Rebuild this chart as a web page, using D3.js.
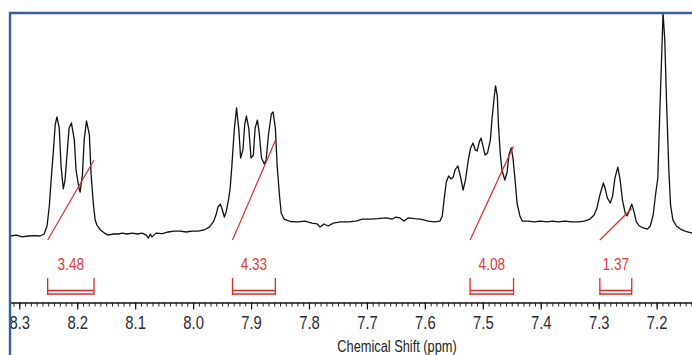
<!DOCTYPE html>
<html>
<head>
<meta charset="utf-8">
<script src="https://cdn.jsdelivr.net/npm/d3@7"></script>
<style>
  html, body { margin: 0; padding: 0; background: #fff; }
  svg { display: block; }
</style>
</head>
<body>
<svg id="chart" width="692" height="355"></svg>
<script>
// 1H NMR spectrum, aromatic region (ppm vs. relative intensity, tallest peak = 100)
const shiftPpm = [
  8.316, 8.305, 8.295, 8.285, 8.274, 8.264, 8.257, 8.252, 8.248, 8.245,
  8.241, 8.238, 8.235, 8.231, 8.228, 8.224, 8.221, 8.217, 8.214, 8.210,
  8.205, 8.202, 8.197, 8.195, 8.191, 8.188, 8.184, 8.179, 8.176, 8.172,
  8.169, 8.166, 8.160, 8.153, 8.147, 8.138, 8.129, 8.122, 8.114, 8.105,
  8.096, 8.088, 8.081, 8.077, 8.074, 8.071, 8.064, 8.053, 8.043, 8.033,
  8.022, 8.012, 8.002, 7.991, 7.981, 7.972, 7.965, 7.960, 7.957, 7.953,
  7.950, 7.946, 7.943, 7.939, 7.936, 7.933, 7.929, 7.925, 7.921, 7.918,
  7.914, 7.911, 7.908, 7.904, 7.900, 7.896, 7.893, 7.889, 7.886, 7.882,
  7.877, 7.874, 7.870, 7.865, 7.862, 7.858, 7.855, 7.851, 7.848, 7.843,
  7.832, 7.819, 7.807, 7.795, 7.786, 7.781, 7.774, 7.767, 7.758, 7.746,
  7.732, 7.719, 7.708, 7.694, 7.681, 7.667, 7.656, 7.650, 7.643, 7.636,
  7.629, 7.618, 7.608, 7.594, 7.584, 7.574, 7.570, 7.567, 7.563, 7.559,
  7.555, 7.551, 7.548, 7.543, 7.538, 7.534, 7.530, 7.525, 7.521, 7.517,
  7.513, 7.510, 7.506, 7.503, 7.499, 7.496, 7.492, 7.487, 7.484, 7.480,
  7.478, 7.475, 7.473, 7.470, 7.467, 7.462, 7.458, 7.455, 7.451, 7.448,
  7.444, 7.441, 7.436, 7.432, 7.422, 7.411, 7.401, 7.389, 7.380, 7.370,
  7.358, 7.346, 7.335, 7.325, 7.315, 7.308, 7.303, 7.298, 7.292, 7.289,
  7.285, 7.280, 7.276, 7.272, 7.267, 7.263, 7.259, 7.254, 7.251, 7.247,
  7.243, 7.239, 7.235, 7.230, 7.223, 7.216, 7.211, 7.206, 7.202, 7.198,
  7.195, 7.191, 7.189, 7.186, 7.183, 7.179, 7.176, 7.172, 7.166, 7.159,
  7.151, 7.139
];
const intensity = [
  0.0, 0.4, -0.4, 0.0, 0.2, 0.0, 0.9, 4.5, 13.9, 25.1,
  38.6, 49.8, 53.4, 48.4, 31.8, 21.1, 25.1, 38.6, 48.4, 50.7,
  43.0, 29.6, 21.5, 19.7, 27.4, 43.0, 51.6, 45.3, 27.4, 13.9,
  7.2, 4.9, 2.7, 1.3, 0.4, 0.9, 0.9, 1.3, 0.9, 1.3,
  0.9, 1.3, 0.4, -0.9, 0.9, -0.4, 1.3, 1.1, 1.8, 2.2,
  2.2, 1.8, 2.2, 2.2, 2.7, 4.0, 6.3, 9.9, 13.0, 14.3,
  12.1, 8.5, 10.8, 16.1, 21.5, 31.8, 47.5, 57.4, 47.5, 35.0,
  38.6, 49.8, 53.8, 48.4, 35.0, 36.3, 48.4, 52.0, 46.6, 35.0,
  32.3, 34.1, 45.3, 54.7, 55.6, 48.4, 31.8, 18.4, 10.3, 7.6,
  6.5, 6.3, 6.7, 5.8, 5.4, 4.0, 5.4, 4.5, 5.8, 6.3,
  6.3, 6.7, 7.6, 7.6, 7.8, 8.1, 7.6, 8.5, 8.1, 6.7,
  8.1, 7.8, 7.6, 6.7, 6.3, 6.7, 9.0, 16.1, 24.2, 26.9,
  25.6, 26.5, 29.6, 31.4, 26.0, 20.6, 25.1, 34.1, 39.5, 41.7,
  38.6, 38.1, 42.2, 43.9, 39.5, 36.3, 37.2, 43.0, 52.9, 63.2,
  67.3, 62.8, 49.8, 37.2, 29.6, 25.1, 28.7, 36.3, 39.5, 35.0,
  24.2, 14.8, 9.0, 6.7, 6.7, 6.3, 6.7, 6.3, 6.7, 6.3,
  6.7, 6.3, 6.3, 6.7, 7.6, 9.4, 12.6, 18.4, 23.8, 21.5,
  17.0, 14.8, 17.9, 26.0, 30.9, 25.1, 16.1, 9.9, 9.0, 11.7,
  14.3, 10.8, 6.3, 4.5, 3.6, 3.1, 4.5, 9.4, 18.4, 26.0,
  52.0, 83.4, 100.0, 87.9, 61.0, 29.6, 13.9, 7.2, 4.5, 3.1,
  2.2, 1.3
];

// Integrated regions: ppm limits and integral values
const integralFrom  = [8.251, 7.932, 7.522, 7.298];
const integralTo    = [8.171, 7.858, 7.447, 7.243];
const integralValue = [3.48, 4.33, 4.08, 1.37];

// Axis ticks
const majorTicks = [8.3, 8.2, 8.1, 8.0, 7.9, 7.8, 7.7, 7.6, 7.5, 7.4, 7.3, 7.2];
const minorTicks = d3.range(714, 832).map(d => d / 100);
const axisTitle = "Chemical Shift (ppm)";

(function draw() {
  const svg = d3.select("#chart");
  const W = 692, H = 355;
  const frameLeft = 10, frameTop = 13, axisY = 302.5;

  // reversed ppm axis, as usual for NMR
  const x = d3.scaleLinear().domain([8.316, 7.139]).range([frameLeft, W]);
  const y = d3.scaleLinear().domain([0, 100]).range([236, frameTop]);
  const yInt = d3.scaleLinear().domain([0, 5]).range([240, 125]);

  const red = "#dc2b2b";
  const font = "'Liberation Sans', Arial, sans-serif";

  // spectrum trace
  const spectrum = shiftPpm.map((p, i) => [p, intensity[i]]);
  svg.append("path")
    .datum(spectrum)
    .attr("fill", "none")
    .attr("stroke", "#111")
    .attr("stroke-width", 1.3)
    .attr("stroke-linejoin", "round")
    .attr("d", d3.line().x(d => x(d[0])).y(d => y(d[1])));

  // integral curves, labels and brackets
  const integrals = integralValue.map((v, i) => ({ from: integralFrom[i], to: integralTo[i], value: v }));
  const ig = svg.append("g").attr("class", "integrals");

  ig.selectAll("path.int")
    .data(integrals)
    .join("path")
    .attr("class", "int")
    .attr("fill", "none")
    .attr("stroke", red)
    .attr("stroke-width", 1.2)
    .attr("d", d => d3.line()([[x(d.from), yInt(0)], [x(d.to), yInt(d.value)]]));

  ig.selectAll("text")
    .data(integrals)
    .join("text")
    .attr("transform", d => `translate(${(x(d.from) + x(d.to)) / 2},270) scale(0.8,1)`)
    .attr("text-anchor", "middle")
    .attr("font-family", font)
    .attr("font-size", 17)
    .attr("fill", "#e03a3a")
    .text(d => d.value.toFixed(2));

  const bracket = ig.selectAll("g.bracket")
    .data(integrals)
    .join("g")
    .attr("class", "bracket")
    .attr("stroke", red)
    .attr("stroke-width", 1.3)
    .attr("fill", "none");
  bracket.append("path")
    .attr("d", d => `M${x(d.from)},278V295M${x(d.to)},278V295`);
  bracket.append("path")
    .attr("d", d => `M${x(d.from)},290.5H${x(d.to)}M${x(d.from)},294H${x(d.to)}`);

  // ppm ruler: minor ticks every 0.01, labelled ticks every 0.1
  const minorAxis = d3.axisBottom(x).tickValues(minorTicks).tickSize(4).tickSizeOuter(0).tickFormat("");
  const gMinor = svg.append("g").attr("transform", `translate(0,${axisY})`).call(minorAxis);
  gMinor.select(".domain").attr("stroke", "#111").attr("stroke-width", 1.4);
  gMinor.selectAll(".tick line").attr("stroke", "#222");

  const majorAxis = d3.axisBottom(x).tickValues(majorTicks).tickSize(7).tickSizeOuter(0).tickFormat(d3.format(".1f"));
  const gMajor = svg.append("g").attr("transform", `translate(0,${axisY})`).call(majorAxis);
  gMajor.select(".domain").remove();
  gMajor.selectAll(".tick line").attr("stroke", "#111").attr("stroke-width", 1.2);
  gMajor.selectAll(".tick text")
    .attr("y", 13)
    .attr("dy", "0.71em")
    .attr("transform", "scale(0.8,1)")
    .attr("font-family", font)
    .attr("font-size", 18.5)
    .attr("fill", "#2a2a3a");

  svg.append("text")
    .attr("transform", `translate(397,352) scale(0.8,1)`)
    .attr("text-anchor", "middle")
    .attr("font-family", font)
    .attr("font-size", 16)
    .attr("fill", "#222")
    .text(axisTitle);

  // plot frame (left and top edges)
  svg.append("path")
    .attr("d", `M${frameLeft},${H}V${frameTop}H${W}`)
    .attr("fill", "none")
    .attr("stroke", "#3a5f9e")
    .attr("stroke-width", 2.4);
})();
</script>
</body>
</html>
